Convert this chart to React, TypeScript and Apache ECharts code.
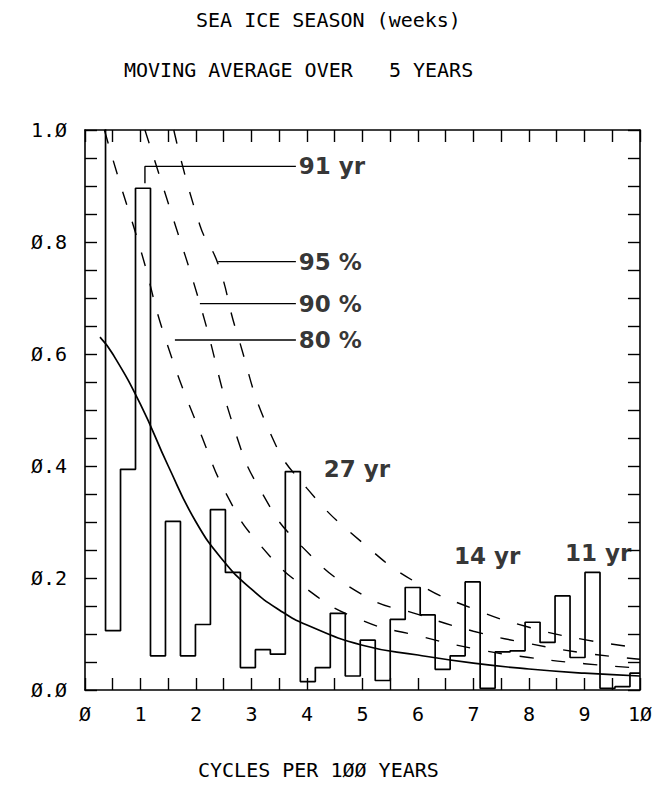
import React, { useEffect, useRef } from "react";
import * as echarts from "echarts";

const binStart = 0.1;
const binWidth = 0.27;
const binValues = [1.2, 0.106, 0.394, 0.896, 0.061, 0.301, 0.061, 0.117, 0.322, 0.21, 0.04, 0.072, 0.064, 0.39, 0.015, 0.04, 0.137, 0.025,
  0.089, 0.017, 0.126, 0.183, 0.134, 0.037, 0.061, 0.193, 0.003, 0.068, 0.07, 0.121, 0.085, 0.168, 0.058, 0.21, 0.003, 0.006, 0.03];

const bgX = [0.27, 0.5, 1, 1.5, 2, 2.5, 3, 3.5, 4, 5, 6, 7, 8, 9, 10];
const bgY = [0.63, 0.6, 0.51, 0.4, 0.3, 0.23, 0.18, 0.143, 0.116, 0.08, 0.0625, 0.048, 0.0375, 0.03, 0.025];

const c80X = [0.35, 0.57, 1.02, 1.44, 2.1, 2.6, 3.12, 4, 5, 6, 7, 8, 9, 10];
const c80Y = [1.0, 0.925, 0.78, 0.63, 0.454, 0.34, 0.263, 0.18, 0.124, 0.097, 0.074, 0.058, 0.047, 0.039];
const c90X = [1.08, 1.53, 2.07, 2.73, 3.2, 3.84, 5, 6, 7, 8, 9, 10];
const c90Y = [1.0, 0.86, 0.69, 0.454, 0.35, 0.263, 0.17, 0.135, 0.105, 0.083, 0.066, 0.055];
const c95X = [1.6, 2.07, 2.4, 2.73, 3.36, 4, 5, 6, 7, 8, 9, 10];
const c95Y = [1.0, 0.83, 0.76, 0.64, 0.454, 0.36, 0.263, 0.19, 0.145, 0.112, 0.09, 0.075];

const xTicks = ["Ø", "1", "2", "3", "4", "5", "6", "7", "8", "9", "1Ø"];
const yTicks = ["Ø.Ø", "Ø.2", "Ø.4", "Ø.6", "Ø.8", "1.Ø"];

const annotations = [
  { text: "91 yr", x: 3.85, y: 0.935, from: 1.08, drop: 0.905 },
  { text: "95 %", x: 3.85, y: 0.765, from: 2.4 },
  { text: "90 %", x: 3.85, y: 0.69, from: 2.07 },
  { text: "80 %", x: 3.85, y: 0.625, from: 1.62 },
];
const peakLabels = [
  { text: "27 yr", x: 4.3, y: 0.395 },
  { text: "14 yr", x: 6.65, y: 0.24 },
  { text: "11 yr", x: 8.65, y: 0.245 },
];

export default function App() {
  const ref = useRef<HTMLDivElement>(null);
  useEffect(() => {
    const chart = echarts.init(ref.current!, null, { renderer: "svg" });
    const step: number[][] = [];
    binValues.forEach((v, i) => {
      const a = binStart + i * binWidth;
      const b = Math.min(10, a + binWidth);
      step.push([a, v], [b, v]);
    });
    const zip = (xs: number[], ys: number[]) => xs.map((x, i) => [x, ys[i]]);
    const dashed = (xs: number[], ys: number[]) => ({
      type: "line", data: zip(xs, ys), smooth: true, symbol: "none", clip: true,
      lineStyle: { color: "#000", width: 1.4, type: [14, 18] },
    });
    const lineSeries: any[] = [];
    annotations.forEach((a) => {
      const pts: number[][] = [];
      if (a.drop !== undefined) pts.push([a.from, a.drop]);
      pts.push([a.from, a.y], [a.x - 0.05, a.y]);
      lineSeries.push({ type: "line", data: pts, symbol: "none", lineStyle: { color: "#000", width: 1.4 } });
    });
    const textStyle = { fontFamily: "DejaVu Sans", fontSize: 23, color: "#000", fontWeight: "bold" };
    lineSeries.push({
      type: "scatter", symbolSize: 0,
      data: [...annotations, ...peakLabels].map((a) => ({ value: [a.x, a.y], label: { show: true, formatter: a.text, position: "right", distance: 0, ...textStyle } })),
    });
    const mono = { fontFamily: "DejaVu Sans Mono", fontSize: 20, color: "#000" };
    const axLine = { show: true, onZero: false, lineStyle: { color: "#000", width: 1.6 } };
    const tick = { show: true, inside: true, length: 12, lineStyle: { color: "#000", width: 1.4 } };
    chart.setOption({
      animation: false,
      grid: { left: 85, right: 15, top: 130, bottom: 95 },
      graphic: [
        { type: "text", x: 196, y: 10, style: { text: "SEA ICE SEASON (weeks)", ...mono, fill: "#000" } },
        { type: "text", x: 124, y: 60, style: { text: "MOVING AVERAGE OVER   5 YEARS", ...mono, fill: "#000" } },
        { type: "text", x: 198, y: 760, style: { text: "CYCLES PER 1ØØ YEARS", ...mono, fill: "#000" } },
      ],
      xAxis: [
        {
          type: "value", min: 0, max: 10, interval: 0.5, axisLine: axLine, axisTick: tick,
          axisLabel: { ...mono, margin: 14, formatter: (v: number) => (Number.isInteger(v) ? xTicks[v] : "") },
          splitLine: { show: false },
        },
        {
          type: "value", min: 0, max: 10, interval: 0.5, position: "top", axisLine: axLine, axisTick: tick,
          axisLabel: { show: false }, splitLine: { show: false },
        },
      ],
      yAxis: [
        {
          type: "value", min: 0, max: 1, interval: 0.05, axisLine: axLine, axisTick: tick,
          axisLabel: { ...mono, margin: 18, formatter: (v: number) => { const r = Math.round(v * 10); return r % 2 === 0 && Math.abs(v * 10 - r) < 1e-6 ? yTicks[r / 2] : ""; } },
          splitLine: { show: false },
        },
        {
          type: "value", min: 0, max: 1, interval: 0.05, position: "right", axisLine: axLine, axisTick: tick,
          axisLabel: { show: false }, splitLine: { show: false },
        },
      ],
      series: [
        { type: "line", data: step, symbol: "none", clip: true, lineStyle: { color: "#000", width: 1.7 } },
        { type: "line", data: zip(bgX, bgY), smooth: true, symbol: "none", lineStyle: { color: "#000", width: 1.7 } },
        dashed(c80X, c80Y), dashed(c90X, c90Y), dashed(c95X, c95Y),
        ...lineSeries,
      ],
    });
    return () => chart.dispose();
  }, []);
  return <div ref={ref} style={{ position: "fixed", left: 0, top: 0, width: 655, height: 785, background: "#fff" }} />;
}
